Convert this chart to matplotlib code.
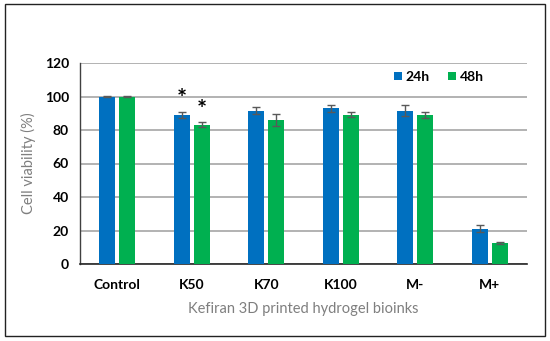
import matplotlib
matplotlib.use("Agg")
import matplotlib.pyplot as plt
from matplotlib.patches import Rectangle
import numpy as np

categories = ["Control", "K50", "K70", "K100", "M-", "M+"]
v24 = [100, 89, 91.5, 93, 91.5, 21]
e24 = [0.3, 2, 2, 2.2, 3.2, 2]
v48 = [100, 83, 86, 89, 89, 12.5]
e48 = [0.3, 1.5, 3.8, 1.5, 1.8, 0.5]
sig24 = [False, True, False, False, False, False]
sig48 = [False, True, False, False, False, False]

plt.rcParams['font.family'] = ['Lato', 'DejaVu Sans']

fig = plt.figure(figsize=(5.5, 3.41), dpi=100)
ax = fig.add_axes([80/550, 1-264/341, 447/550, (264-63)/341])

x = np.arange(len(categories))
w = 0.21
off = 0.135
c24 = "#0070C0"
c48 = "#00B050"
ax.bar(x - off, v24, w, color=c24, label="24h", zorder=3)
ax.bar(x + off, v48, w, color=c48, label="48h", zorder=3)
ax.errorbar(x - off, v24, yerr=e24, fmt="none", ecolor="#595959", elinewidth=1, capsize=3, capthick=1, zorder=4)
ax.errorbar(x + off, v48, yerr=e48, fmt="none", ecolor="#595959", elinewidth=1, capsize=3, capthick=1, zorder=4)
for i in range(len(categories)):
    if sig24[i]:
        ax.text(x[i] - off, v24[i] + e24[i] + 0.5, "*", ha="center", va="bottom", fontsize=17, fontweight="bold")
    if sig48[i]:
        ax.text(x[i] + off, v48[i] + e48[i] + 0.5, "*", ha="center", va="bottom", fontsize=17, fontweight="bold")

ax.set_xlim(-0.5, 5.5)
ax.set_ylim(0, 120)
ax.set_yticks(range(0, 121, 20))
ax.set_xticks(x)
ax.set_xticklabels(categories, fontweight="bold", fontsize=10)
for t in ax.get_yticklabels():
    t.set_fontweight("bold")
    t.set_fontsize(10)
ax.tick_params(axis="x", length=0, pad=11)
ax.tick_params(axis="y", length=0, pad=8)
ax.yaxis.grid(True, color="#A6A6A6", linewidth=1.2, zorder=0)
ax.set_axisbelow(True)
for s in ["top", "right"]:
    ax.spines[s].set_visible(False)
ax.spines["left"].set_color("#404040")
ax.spines["bottom"].set_color("#262626")
ax.spines["left"].set_linewidth(1)
ax.spines["bottom"].set_linewidth(1.2)
ax.set_ylabel("Cell viability (%)", color="#7F7F7F", fontsize=10.5, labelpad=6)
ax.set_xlabel("Kefiran 3D printed hydrogel bioinks", color="#7F7F7F", fontsize=10.5, labelpad=8)

leg = ax.legend(loc="center right", bbox_to_anchor=(0.925, (264-77)/201), ncol=2, frameon=False,
                handlelength=0.55, handleheight=0.55, handletextpad=0.3, columnspacing=1.3,
                borderpad=0.2, prop={"weight": "bold", "size": 10})

fig.patches.append(Rectangle((5/550, 1-336/341), 540/550, 332/341, transform=fig.transFigure,
                             fill=False, edgecolor="#222222", linewidth=1))
fig.savefig("out.png", dpi=100)
